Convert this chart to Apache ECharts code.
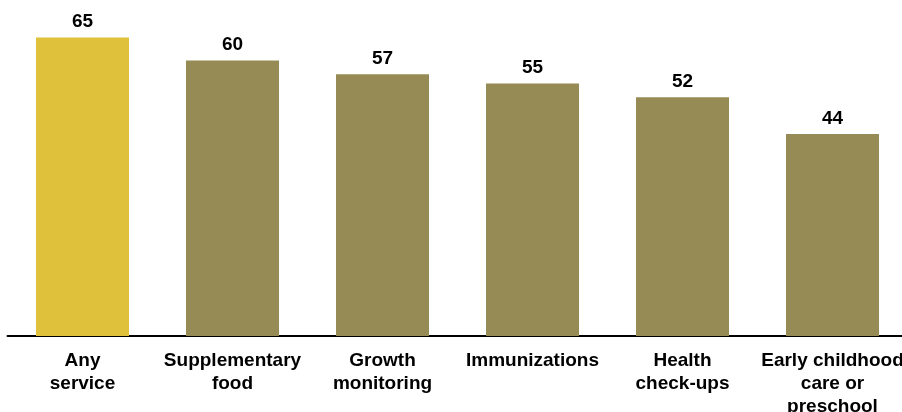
<!DOCTYPE html>
<html>
<head>
<meta charset="utf-8">
<script src="https://cdn.jsdelivr.net/npm/echarts@6/dist/echarts.min.js"></script>
<style>html,body{margin:0;padding:0;background:#fff;}#c{width:902px;height:412px;}</style>
</head>
<body>
<div id="c"></div>
<script>
var categories = ["Any\nservice", "Supplementary\nfood", "Growth\nmonitoring", "Immunizations", "Health\ncheck-ups", "Early childhood\ncare or\npreschool"];
var values = [65, 60, 57, 55, 52, 44];
var highlightColor = "#DFC13B";
var baseColor = "#968B55";

var chart = echarts.init(document.getElementById('c'), null, {renderer: 'canvas'});
chart.setOption({
  animation: false,
  grid: {left: 7.5, width: 900, top: 37.5, bottom: 76, containLabel: false, outerBoundsMode: 'none'},
  xAxis: {
    type: 'category',
    data: categories,
    axisLine: {show: true, lineStyle: {color: '#000', width: 2}},
    axisTick: {show: false},
    axisLabel: {
      interval: 0,
      margin: 13,
      color: '#000',
      fontFamily: 'Liberation Sans, Arial, sans-serif',
      fontWeight: 'bold',
      fontSize: 19,
      lineHeight: 23
    }
  },
  yAxis: {
    type: 'value',
    min: 0,
    max: 65,
    show: false,
    splitLine: {show: false}
  },
  series: [{
    type: 'bar',
    data: values.map(function (v, i) {
      return {value: v, itemStyle: {color: i === 0 ? highlightColor : baseColor}};
    }),
    barWidth: 93,
    label: {
      show: true,
      position: 'top',
      distance: 6,
      color: '#000',
      fontFamily: 'Liberation Sans, Arial, sans-serif',
      fontWeight: 'bold',
      fontSize: 19
    }
  }]
});
</script>
</body>
</html>
